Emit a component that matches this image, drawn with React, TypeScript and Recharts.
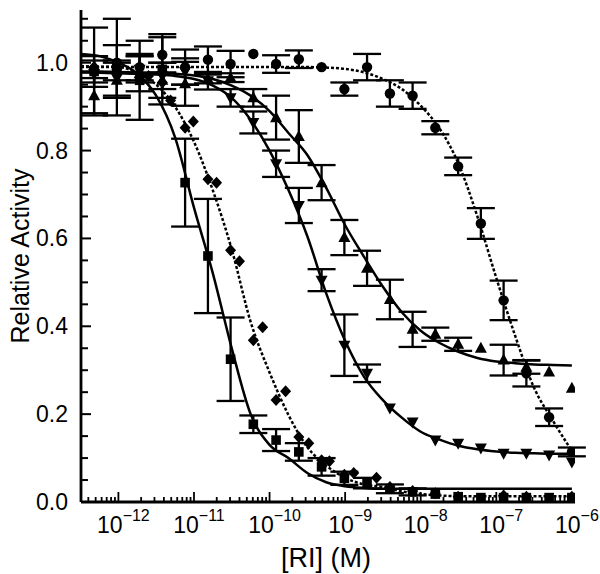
import { ComposedChart, Line, Scatter, XAxis, YAxis, ErrorBar } from "recharts";

// concentrations (M), two-fold dilution series
const CONC = [
  4.77e-13, 9.54e-13, 1.91e-12, 3.81e-12, 7.63e-12, 1.53e-11, 3.05e-11, 6.1e-11,
  1.22e-10, 2.44e-10, 4.88e-10, 9.77e-10, 1.95e-9, 3.91e-9, 7.81e-9, 1.56e-8,
  3.13e-8, 6.25e-8, 1.25e-7, 2.5e-7, 5e-7, 1e-6,
];

const SQUARE_Y = [0.98, 0.99, 0.96, 0.985, 0.727, 0.56, 0.325, 0.177, 0.141, 0.114, 0.08, 0.054, 0.043, 0.03, 0.023, 0.018, 0.012, 0.01, 0.01, 0.01, 0.01, 0.01];
const SQUARE_ERR = [0.1, 0.11, 0.09, 0.08, 0.1, 0.13, 0.095, 0.02, 0.025, 0.02, 0.02, 0.015, 0.012, 0.01, 0.008, 0, 0, 0, 0, 0, 0, 0];

const CIRCLE_Y = [0.985, 1.0, 0.99, 1.018, 0.99, 1.007, 0.997, 1.02, 0.997, 1.008, 0.99, 0.94, 0.99, 0.93, 0.925, 0.852, 0.764, 0.634, 0.459, 0.293, 0.193, 0.114];
const CIRCLE_ERR = [0.03, 0.04, 0.03, 0.04, 0.04, 0.03, 0.03, 0, 0.02, 0.02, 0, 0.015, 0.03, 0.03, 0.03, 0.015, 0.02, 0.035, 0.045, 0.03, 0.02, 0.01];

const DOWN_Y = [0.975, 0.965, 0.985, 0.97, 0.98, 0.959, 0.92, 0.864, 0.77, 0.675, 0.505, 0.357, 0.293, 0.214, 0.182, 0.141, 0.134, 0.123, 0.111, 0.111, 0.107, 0.091];
const DOWN_ERR = [0.03, 0.04, 0.03, 0.03, 0.03, 0.02, 0.02, 0.025, 0.03, 0.04, 0.025, 0.07, 0.02, 0, 0, 0, 0, 0, 0, 0, 0, 0];

const UP_Y = [0.925, 0.96, 0.975, 0.96, 0.952, 0.963, 0.966, 0.92, 0.875, 0.832, 0.727, 0.602, 0.532, 0.461, 0.393, 0.382, 0.359, 0.35, 0.323, 0.307, 0.296, 0.259];
const UP_ERR = [0.04, 0.04, 0.04, 0.04, 0.05, 0.01, 0.01, 0.02, 0.05, 0.06, 0.04, 0.04, 0.04, 0.045, 0.04, 0.015, 0.015, 0, 0.035, 0.015, 0, 0];

// diamonds: replicate pairs, no error bars
const DIAMOND_X = [
  4.77e-13, 9.54e-13, 1.91e-12, 2.5e-12, 3.81e-12, 4.9e-12, 7.63e-12, 9.8e-12,
  1.53e-11, 1.99e-11, 3.05e-11, 4.0e-11, 6.1e-11, 8.1e-11, 1.22e-10, 1.63e-10,
  2.44e-10, 3.3e-10, 4.88e-10, 6.2e-10, 9.77e-10, 1.3e-9, 2.6e-9, 3.91e-9,
  7.81e-9, 1.56e-8, 3.13e-8, 1.25e-7, 2.5e-7, 1e-6,
];
const DIAMOND_Y = [
  0.99, 0.985, 0.975, 0.97, 0.955, 0.914, 0.852, 0.866,
  0.735, 0.727, 0.573, 0.548, 0.368, 0.398, 0.232, 0.252,
  0.148, 0.134, 0.095, 0.093, 0.062, 0.066, 0.055, 0.034,
  0.025, 0.02, 0.012, 0.015, 0.012, 0.012,
];

const CURVE_X = [
  3.2e-13, 5.62e-13, 1e-12, 1.78e-12, 3.16e-12, 5.62e-12, 1e-11, 1.78e-11, 3.16e-11,
  5.62e-11, 1e-10, 1.78e-10, 3.16e-10, 5.62e-10, 1e-9, 1.78e-9, 3.16e-9, 5.62e-9,
  1e-8, 1.78e-8, 3.16e-8, 5.62e-8, 1e-7, 1.78e-7, 3.16e-7, 5.62e-7, 1e-6,
];
const SQUARE_FIT = [1.02, 1.015, 1.0, 0.975, 0.925, 0.83, 0.67, 0.52, 0.35, 0.2, 0.13, 0.1, 0.066, 0.045, 0.036, 0.032, 0.03, 0.03, 0.03, 0.03, 0.03, 0.03, 0.03, 0.03, 0.03, 0.03, 0.03];
const DIAMOND_FIT = [0.992, 0.991, 0.99, 0.977, 0.95, 0.9, 0.82, 0.709, 0.575, 0.41, 0.295, 0.198, 0.125, 0.083, 0.055, 0.04, 0.034, 0.024, 0.018, 0.015, 0.013, 0.013, 0.013, 0.013, 0.013, 0.013, 0.013];
const DOWN_FIT = [0.978, 0.977, 0.976, 0.975, 0.973, 0.97, 0.963, 0.948, 0.92, 0.87, 0.8, 0.71, 0.605, 0.475, 0.367, 0.285, 0.232, 0.192, 0.16, 0.142, 0.128, 0.12, 0.115, 0.112, 0.111, 0.11, 0.11];
const UP_FIT = [0.98, 0.98, 0.979, 0.978, 0.977, 0.975, 0.971, 0.963, 0.948, 0.925, 0.89, 0.84, 0.79, 0.715, 0.63, 0.558, 0.49, 0.432, 0.39, 0.362, 0.342, 0.328, 0.32, 0.316, 0.313, 0.312, 0.311];
const CIRCLE_FIT = [0.99, 0.99, 0.99, 0.99, 0.99, 0.99, 0.99, 0.99, 0.99, 0.99, 0.99, 0.99, 0.99, 0.989, 0.986, 0.978, 0.963, 0.94, 0.902, 0.85, 0.77, 0.65, 0.51, 0.378, 0.26, 0.185, 0.116];

const DECADES = [-13, -12, -11, -10, -9, -8, -7, -6];
const X_MIN = 3.2e-13;
const X_MAX = 1.1e-6;
const X_TICKS: number[] = [];
DECADES.forEach((d) => {
  for (let m = 1; m <= 9; m++) {
    const v = m * Math.pow(10, d);
    if (v >= X_MIN && v <= X_MAX * 0.95) X_TICKS.push(v);
  }
});
const Y_TICKS = [0, 0.05, 0.1, 0.15, 0.2, 0.25, 0.3, 0.35, 0.4, 0.45, 0.5, 0.55, 0.6, 0.65, 0.7, 0.75, 0.8, 0.85, 0.9, 0.95, 1.0, 1.05, 1.1];

const FONT = "'Liberation Sans', Arial, sans-serif";

const pts = (xs: number[], ys: number[], errs?: number[]) =>
  xs.map((x, i) => ({ x, y: ys[i], err: errs ? errs[i] : 0 }));
const withErr = (xs: number[], ys: number[], errs: number[]) =>
  pts(xs, ys, errs).filter((p) => p.err > 0);

const squareData = pts(CONC, SQUARE_Y, SQUARE_ERR);
const circleData = pts(CONC, CIRCLE_Y, CIRCLE_ERR);
const downData = pts(CONC, DOWN_Y, DOWN_ERR);
const upData = pts(CONC, UP_Y, UP_ERR);
const diamondData = pts(DIAMOND_X, DIAMOND_Y);

const curve = (ys: number[]) => CURVE_X.map((x, i) => ({ x, y: ys[i] }));

const Square = (p: any) => <rect x={p.cx - 4.8} y={p.cy - 4.8} width={9.6} height={9.6} fill="#000" />;
const Circle = (p: any) => <circle cx={p.cx} cy={p.cy} r={5.2} fill="#000" />;
const Diamond = (p: any) => (
  <polygon points={`${p.cx},${p.cy - 6} ${p.cx + 5.5},${p.cy} ${p.cx},${p.cy + 6} ${p.cx - 5.5},${p.cy}`} fill="#000" />
);
const UpTri = (p: any) => (
  <polygon points={`${p.cx},${p.cy - 6.5} ${p.cx + 6},${p.cy + 4.5} ${p.cx - 6},${p.cy + 4.5}`} fill="#000" />
);
const DownTri = (p: any) => (
  <polygon points={`${p.cx},${p.cy + 6.5} ${p.cx + 6},${p.cy - 4.5} ${p.cx - 6},${p.cy - 4.5}`} fill="#000" />
);
const Hidden = () => <g />;

const XTick = (props: any) => {
  const { x, y, payload } = props;
  const lg = Math.log10(payload.value);
  const major = Math.abs(lg - Math.round(lg)) < 1e-6;
  return (
    <g>
      <line x1={x} x2={x} y1={y} y2={y - (major ? 10 : 5)} stroke="#000" strokeWidth={1.8} />
      {major && (
        <text x={x + 5} y={y + 31} textAnchor="middle" fontSize={23} fontFamily={FONT} fill="#000">
          10
          <tspan fontSize={16} dy={-12}>
            {"\u2212" + String(-Math.round(lg))}
          </tspan>
        </text>
      )}
    </g>
  );
};

const YTick = (props: any) => {
  const { x, y, payload } = props;
  const v = payload.value;
  const major = Math.abs(v * 5 - Math.round(v * 5)) < 1e-6;
  return (
    <g>
      <line x1={x} x2={x + (major ? 10 : 7)} y1={y} y2={y} stroke="#000" strokeWidth={2} />
      {major && (
        <text x={x - 13} y={y + 8} textAnchor="end" fontSize={23} fontFamily={FONT} fill="#000">
          {v.toFixed(1)}
        </text>
      )}
    </g>
  );
};

export default function App() {
  return (
    <div style={{ position: "absolute", left: 0, top: 0, background: "#fff" }}>
      <ComposedChart width={600} height={574} margin={{ top: 10, right: 25, left: 0, bottom: 0 }}>
        <XAxis
          dataKey="x"
          type="number"
          scale="log"
          domain={[X_MIN, X_MAX]}
          allowDataOverflow
          ticks={X_TICKS}
          interval={0}
          tick={XTick}
          tickLine={false}
          tickSize={0}
          tickMargin={0}
          height={72}
          axisLine={{ stroke: "#000", strokeWidth: 2.8 }}
          label={() => (
            <text x={326} y={567} textAnchor="middle" fontSize={27} fontFamily={FONT} fill="#000">
              [RI] (M)
            </text>
          )}
        />
        <YAxis
          dataKey="y"
          type="number"
          domain={[0, 1.12]}
          allowDataOverflow
          ticks={Y_TICKS}
          interval={0}
          tick={YTick}
          tickLine={false}
          tickSize={0}
          tickMargin={0}
          width={81}
          axisLine={{ stroke: "#000", strokeWidth: 2.8 }}
          label={() => (
            <text x={29} y={256} transform="rotate(-90 29 256)" textAnchor="middle" fontSize={25} fontFamily={FONT} fill="#000">
              Relative Activity
            </text>
          )}
        />

        <Line data={curve(SQUARE_FIT)} dataKey="y" type="monotone" stroke="#000" strokeWidth={2.5} dot={false} isAnimationActive={false} />
        <Line data={curve(DIAMOND_FIT)} dataKey="y" type="monotone" stroke="#000" strokeWidth={2.5} strokeDasharray="3 2" dot={false} isAnimationActive={false} />
        <Line data={curve(DOWN_FIT)} dataKey="y" type="monotone" stroke="#000" strokeWidth={2.5} dot={false} isAnimationActive={false} />
        <Line data={curve(UP_FIT)} dataKey="y" type="monotone" stroke="#000" strokeWidth={2.5} dot={false} isAnimationActive={false} />
        <Line data={curve(CIRCLE_FIT)} dataKey="y" type="monotone" stroke="#000" strokeWidth={2.5} strokeDasharray="3 2" dot={false} isAnimationActive={false} />

        <Scatter data={withErr(CONC, SQUARE_Y, SQUARE_ERR)} dataKey="y" shape={Hidden} isAnimationActive={false}>
          <ErrorBar dataKey="err" direction="y" width={14} stroke="#000" strokeWidth={2.3} isAnimationActive={false} />
        </Scatter>
        <Scatter data={withErr(CONC, CIRCLE_Y, CIRCLE_ERR)} dataKey="y" shape={Hidden} isAnimationActive={false}>
          <ErrorBar dataKey="err" direction="y" width={14} stroke="#000" strokeWidth={2.3} isAnimationActive={false} />
        </Scatter>
        <Scatter data={withErr(CONC, DOWN_Y, DOWN_ERR)} dataKey="y" shape={Hidden} isAnimationActive={false}>
          <ErrorBar dataKey="err" direction="y" width={14} stroke="#000" strokeWidth={2.3} isAnimationActive={false} />
        </Scatter>
        <Scatter data={withErr(CONC, UP_Y, UP_ERR)} dataKey="y" shape={Hidden} isAnimationActive={false}>
          <ErrorBar dataKey="err" direction="y" width={14} stroke="#000" strokeWidth={2.3} isAnimationActive={false} />
        </Scatter>

        <Scatter data={squareData} dataKey="y" shape={Square} isAnimationActive={false} />
        <Scatter data={diamondData} dataKey="y" shape={Diamond} isAnimationActive={false} />
        <Scatter data={downData} dataKey="y" shape={DownTri} isAnimationActive={false} />
        <Scatter data={upData} dataKey="y" shape={UpTri} isAnimationActive={false} />
        <Scatter data={circleData} dataKey="y" shape={Circle} isAnimationActive={false} />
      </ComposedChart>
    </div>
  );
}
